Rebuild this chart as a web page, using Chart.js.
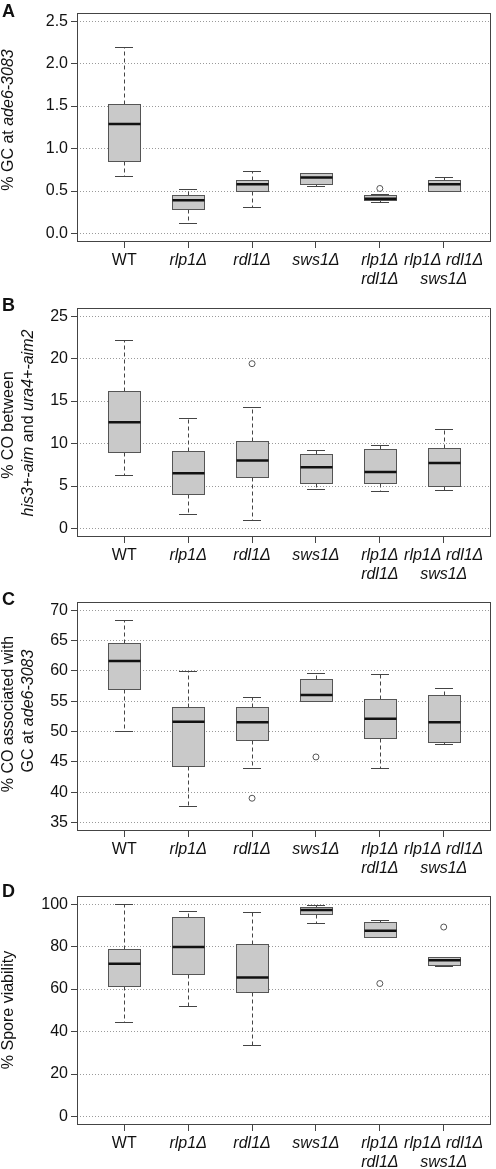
<!DOCTYPE html>
<html>
<head>
<meta charset="utf-8">
<script src="https://cdn.jsdelivr.net/npm/chart.js@4.4.0/dist/chart.umd.min.js"></script>
<style>
  body { margin: 0; width: 496px; height: 1169px; overflow: hidden; background: #fff; position: relative;
         font-family: "Liberation Sans", Arial, sans-serif; color: #111; }
  canvas { position: absolute; left: 0; }
  .letter { position: absolute; left: 2px; font-weight: bold; font-size: 18px; line-height: 18px; }
  .yt { position: absolute; font-size: 16px; line-height: 16px; white-space: nowrap;
        transform: translate(-50%, -50%) rotate(-90deg); }
</style>
</head>
<body>
<canvas id="chartA" width="496" height="286" style="top:0px"></canvas>
<canvas id="chartB" width="496" height="286" style="top:295px"></canvas>
<canvas id="chartC" width="496" height="286" style="top:589px"></canvas>
<canvas id="chartD" width="496" height="286" style="top:883px"></canvas>

<div class="letter" style="top:2px">A</div>
<div class="letter" style="top:296px">B</div>
<div class="letter" style="top:590px">C</div>
<div class="letter" style="top:882px">D</div>

<div class="yt" style="left:7.5px;top:120px">% GC at <i>ade6-3083</i></div>
<div class="yt" style="left:7.5px;top:425px">% CO between</div>
<div class="yt" style="left:27.5px;top:423px"><i>his3+-aim</i> and <i>ura4+-aim2</i></div>
<div class="yt" style="left:7.5px;top:714px">% CO associated with</div>
<div class="yt" style="left:27.5px;top:711px">GC at <i>ade6-3083</i></div>
<div class="yt" style="left:7.5px;top:1010px">% Spore viability</div>

<script>
// strains (x categories)
const groups = ['WT', 'rlp1Δ', 'rdl1Δ', 'sws1Δ', ['rlp1Δ', 'rdl1Δ'], ['rlp1Δ rdl1Δ', 'sws1Δ']];

// A: % GC at ade6-3083
const gcLow  = [0.68, 0.12, 0.31, 0.56, 0.37, 0.50];
const gcQ1   = [0.85, 0.29, 0.50, 0.58, 0.40, 0.50];
const gcMed  = [1.29, 0.39, 0.58, 0.66, 0.41, 0.58];
const gcQ3   = [1.53, 0.45, 0.63, 0.71, 0.45, 0.63];
const gcHigh = [2.20, 0.52, 0.74, 0.71, 0.47, 0.67];
const gcOut  = [null, null, null, null, 0.53, null];
const gcTicks = [0, 0.5, 1, 1.5, 2, 2.5];

// B: % CO between his3+-aim and ura4+-aim2
const coLow  = [6.3, 1.7, 1.0, 4.7, 4.4, 4.5];
const coQ1   = [9.0, 4.1, 6.1, 5.3, 5.3, 5.0];
const coMed  = [12.5, 6.5, 8.0, 7.2, 6.65, 7.7];
const coQ3   = [16.15, 9.1, 10.3, 8.8, 9.35, 9.5];
const coHigh = [22.2, 13.0, 14.3, 9.2, 9.85, 11.7];
const coOut  = [null, null, 19.4, null, null, null];
const coTicks = [0, 5, 10, 15, 20, 25];

// C: % CO associated with GC
const assocLow  = [50.0, 37.8, 44.05, 54.95, 43.95, 48.0];
const assocQ1   = [57.05, 44.3, 48.65, 54.95, 49.0, 48.3];
const assocMed  = [61.6, 51.6, 51.5, 56.0, 52.1, 51.5];
const assocQ3   = [64.6, 54.1, 54.0, 58.6, 55.3, 56.0];
const assocHigh = [68.4, 59.9, 55.6, 59.6, 59.5, 57.2];
const assocOut  = [null, null, 39.0, 45.8, null, null];
const assocTicks = [35, 40, 45, 50, 55, 60, 65, 70];

// D: % spore viability
const svLow  = [44.5, 52.2, 33.7, 90.9, 84.3, 70.9];
const svQ1   = [61.4, 66.9, 58.7, 95.4, 84.5, 71.1];
const svMed  = [71.9, 79.8, 65.4, 97.2, 87.4, 73.6];
const svQ3   = [79.0, 93.7, 81.0, 98.6, 91.4, 75.0];
const svHigh = [100, 96.9, 96.4, 99.5, 92.5, 75.0];
const svOut  = [null, null, null, null, 62.6, 89.2];
const svTicks = [0, 20, 40, 60, 80, 100];

const FONT = '"Liberation Sans", Arial, sans-serif';

// draws boxes, whiskers and medians through the chart scales
const boxPlugin = {
  id: 'boxes',
  beforeDatasetsDraw(chart, args, opts) {
    const { ctx, scales: { x, y } } = chart;
    const halfBox = 0.25, halfCap = 0.14;
    ctx.save();
    opts.med.forEach((m, i) => {
      const xc = Math.round(x.getPixelForValue(i + 1)) + 0.5;
      const xl = Math.round(x.getPixelForValue(i + 1 - halfBox)) + 0.5;
      const xr = Math.round(x.getPixelForValue(i + 1 + halfBox)) + 0.5;
      const cl = Math.round(x.getPixelForValue(i + 1 - halfCap));
      const cr = Math.round(x.getPixelForValue(i + 1 + halfCap));
      const yLow = Math.round(y.getPixelForValue(opts.low[i])) + 0.5;
      const yQ1 = Math.round(y.getPixelForValue(opts.q1[i])) + 0.5;
      const yQ3 = Math.round(y.getPixelForValue(opts.q3[i])) + 0.5;
      const yHigh = Math.round(y.getPixelForValue(opts.high[i])) + 0.5;
      const yMed = y.getPixelForValue(m);

      // whiskers
      ctx.strokeStyle = '#444';
      ctx.lineWidth = 1;
      ctx.setLineDash([4, 3]);
      ctx.beginPath();
      ctx.moveTo(xc, yQ3); ctx.lineTo(xc, yHigh);
      ctx.moveTo(xc, yQ1); ctx.lineTo(xc, yLow);
      ctx.stroke();
      ctx.setLineDash([]);
      ctx.beginPath();
      ctx.moveTo(cl, yHigh); ctx.lineTo(cr, yHigh);
      ctx.moveTo(cl, yLow); ctx.lineTo(cr, yLow);
      ctx.stroke();

      // box
      ctx.fillStyle = '#c9c9c9';
      ctx.fillRect(xl, yQ3, xr - xl, yQ1 - yQ3);
      ctx.strokeStyle = '#555';
      ctx.strokeRect(xl, yQ3, xr - xl, yQ1 - yQ3);

      // median
      ctx.strokeStyle = '#111';
      ctx.lineWidth = 2.5;
      ctx.beginPath();
      ctx.moveTo(xl, yMed); ctx.lineTo(xr, yMed);
      ctx.stroke();
    });
    ctx.restore();
  },
  afterDraw(chart) {
    const { ctx, chartArea: a } = chart;
    ctx.save();
    ctx.strokeStyle = '#444';
    ctx.lineWidth = 1;
    ctx.strokeRect(Math.round(a.left) + 0.5, Math.round(a.top) + 0.5,
                   Math.round(a.width) - 1, Math.round(a.height) - 1);
    ctx.restore();
  }
};

function makePanel(id, stats, out, ticks, yMin, yMax, fmt) {
  const points = [];
  out.forEach((v, i) => { if (v !== null) points.push({ x: i + 1, y: v }); });

  new Chart(document.getElementById(id), {
    type: 'scatter',
    data: {
      datasets: [{
        data: points,
        pointRadius: 3,
        pointBorderWidth: 1,
        pointBorderColor: '#555',
        pointBackgroundColor: 'rgba(0,0,0,0)'
      }]
    },
    options: {
      responsive: false,
      animation: false,
      events: [],
      layout: { padding: { top: 9, right: 2, left: 0, bottom: 0 } },
      plugins: { legend: { display: false }, tooltip: { enabled: false }, boxes: stats },
      scales: {
        x: {
          type: 'linear', min: 0.26, max: 6.74,
          afterBuildTicks: s => { s.ticks = groups.map((g, i) => ({ value: i + 1 })); },
          afterFit: s => { s.height = 44; },
          grid: { drawOnChartArea: false, tickLength: 6, tickColor: '#444' },
          border: { display: false },
          ticks: {
            autoSkip: false, maxRotation: 0, minRotation: 0, padding: 3, color: '#111',
            font: c => ({ family: FONT, size: 16, lineHeight: 1.2, style: c.index === 0 ? 'normal' : 'italic' }),
            callback: (v, i) => groups[i]
          }
        },
        y: {
          min: yMin, max: yMax,
          afterBuildTicks: s => { s.ticks = ticks.map(v => ({ value: v })); },
          afterFit: s => { s.width = 77; },
          grid: { color: '#9a9a9a', tickColor: '#444', tickLength: 6, tickBorderDash: [] },
          border: { display: false, dash: [1, 2] },
          ticks: { padding: 3, color: '#111', font: { family: FONT, size: 16 }, callback: v => fmt(v) }
        }
      }
    },
    plugins: [boxPlugin]
  });
}

makePanel('chartA', { low: gcLow, q1: gcQ1, med: gcMed, q3: gcQ3, high: gcHigh }, gcOut, gcTicks, -0.1, 2.6, v => v.toFixed(1));
makePanel('chartB', { low: coLow, q1: coQ1, med: coMed, q3: coQ3, high: coHigh }, coOut, coTicks, -1, 26, v => String(v));
makePanel('chartC', { low: assocLow, q1: assocQ1, med: assocMed, q3: assocQ3, high: assocHigh }, assocOut, assocTicks, 33.6, 71.4, v => String(v));
makePanel('chartD', { low: svLow, q1: svQ1, med: svMed, q3: svQ3, high: svHigh }, svOut, svTicks, -4, 104, v => String(v));
</script>
</body>
</html>
